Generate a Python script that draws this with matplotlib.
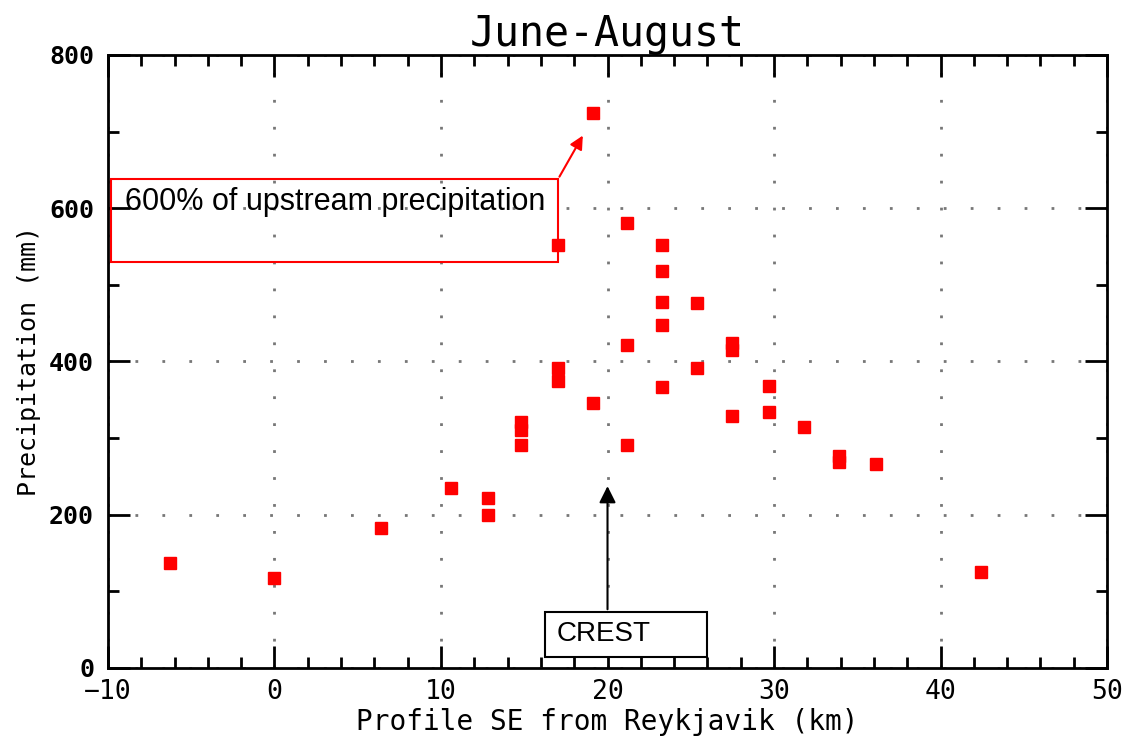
import matplotlib.pyplot as plt
from matplotlib.patches import Rectangle
from matplotlib.ticker import MultipleLocator

# distance along profile (km) and summer precipitation (mm)
dist = [-6.3, 0.0, 6.4, 10.6, 12.8, 12.8, 14.8, 14.8, 14.8,
        17.0, 17.0, 17.0, 19.1, 19.1,
        21.2, 21.2, 21.2,
        23.3, 23.3, 23.3, 23.3, 23.3,
        25.4, 25.4, 27.5, 27.5, 27.5,
        29.7, 29.7, 31.8, 33.9, 33.9, 36.1, 42.4]
precip = [137, 117, 183, 235, 222, 200, 321, 311, 291,
          552, 392, 375, 724, 346,
          581, 422, 291,
          552, 518, 478, 448, 367,
          476, 392, 424, 415, 329,
          368, 334, 315, 277, 269, 266, 125]

box_label = "600% of upstream precipitation"
crest_label = "CREST"

fig = plt.figure(figsize=(11.27, 7.40), dpi=100)
ax = fig.add_axes([0.0958, 0.0973, 0.8865, 0.8284])

ax.plot(dist, precip, 's', color='red', ms=9, mec='red', zorder=5)

ax.set_xlim(-10, 50)
ax.set_ylim(0, 800)
ax.xaxis.set_major_locator(MultipleLocator(10))
ax.xaxis.set_minor_locator(MultipleLocator(2))
ax.yaxis.set_major_locator(MultipleLocator(200))
ax.yaxis.set_minor_locator(MultipleLocator(100))
ax.tick_params(which='both', direction='in', top=True, right=True, width=2)
ax.tick_params(which='major', length=16)
ax.tick_params(which='minor', length=8)
ax.tick_params(axis='x', which='major', pad=8)
ax.tick_params(axis='y', which='major', pad=10)
for lab in ax.get_xticklabels():
    lab.set_fontfamily('DejaVu Sans Mono')
    lab.set_fontsize(19)
for lab in ax.get_yticklabels():
    lab.set_fontfamily('DejaVu Sans Mono')
    lab.set_fontsize(18)
    lab.set_fontweight('bold')
for sp in ax.spines.values():
    sp.set_linewidth(2)

ax.grid(True, which='major', color='#777777', linestyle=(0, (1, 8.7)), linewidth=2)

ax.set_title("June-August", fontfamily='DejaVu Sans Mono', fontsize=30, pad=6)
ax.set_xlabel("Profile SE from Reykjavik (km)", fontfamily='DejaVu Sans Mono', fontsize=20, labelpad=2)
ax.set_ylabel("Precipitation (mm)", fontfamily='DejaVu Sans Mono', fontsize=18, labelpad=6)

# red annotation box with arrow to the maximum
ax.add_patch(Rectangle((-9.82, 530), 26.85, 108, fill=False, edgecolor='red', lw=1.5, zorder=4))
ax.text(-9.0, 608, box_label, fontfamily='Liberation Sans', fontsize=22, va='center', ha='left', zorder=6)
ax.annotate('', xy=(18.6, 698), xytext=(17.03, 638),
            arrowprops=dict(arrowstyle='-|>', color='red', lw=1.5, mutation_scale=20))

# crest box with arrow
ax.add_patch(Rectangle((16.25, 14), 9.75, 59, facecolor='white', edgecolor='black', lw=1.5, zorder=4))
ax.text(16.95, 44, crest_label, fontfamily='Liberation Sans', fontsize=20, va='center', ha='left', zorder=6)
ax.annotate('', xy=(20, 241), xytext=(20, 73),
            arrowprops=dict(arrowstyle='-|>', color='black', lw=1.5, mutation_scale=25))

plt.savefig('out.png', dpi=100)
